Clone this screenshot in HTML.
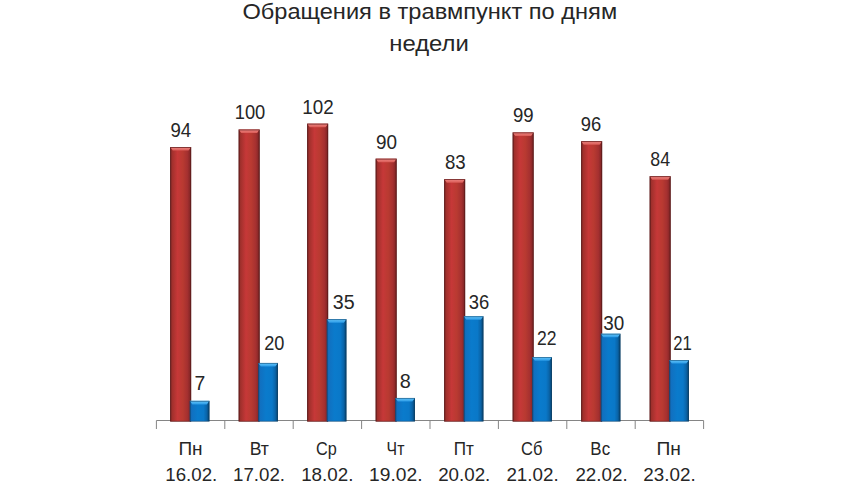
<!DOCTYPE html>
<html><head><meta charset="utf-8"><style>
html,body{margin:0;padding:0;background:#fff;width:860px;height:484px;overflow:hidden;position:relative}
svg text{font-family:"Liberation Sans",sans-serif}
</style></head><body>
<svg width="860" height="484" viewBox="0 0 860 484" style="position:absolute;left:0;top:0">
<defs>
<linearGradient id="rg" x1="0" y1="0" x2="1" y2="0">
<stop offset="0" stop-color="#6a2222"/><stop offset="0.09" stop-color="#a0302c"/><stop offset="0.35" stop-color="#c63838"/><stop offset="0.6" stop-color="#b93a31"/><stop offset="0.82" stop-color="#a53030"/><stop offset="0.93" stop-color="#8a2828"/><stop offset="1" stop-color="#5e1e1e"/>
</linearGradient>
<linearGradient id="bg" x1="0" y1="0" x2="1" y2="0">
<stop offset="0" stop-color="#1d5a96"/><stop offset="0.1" stop-color="#1170c0"/><stop offset="0.4" stop-color="#0a7bcc"/><stop offset="0.7" stop-color="#0a78c8"/><stop offset="0.86" stop-color="#0a64a8"/><stop offset="1" stop-color="#083e66"/>
</linearGradient>
<linearGradient id="rt" x1="0" y1="0" x2="0" y2="1">
<stop offset="0" stop-color="#f08a86"/><stop offset="1" stop-color="#d95a55"/>
</linearGradient>
<linearGradient id="bt" x1="0" y1="0" x2="0" y2="1">
<stop offset="0" stop-color="#66c6fa"/><stop offset="1" stop-color="#2a9ae6"/>
</linearGradient>
</defs>
<line x1="156.40" y1="420.5" x2="703.60" y2="420.5" stroke="#858585" stroke-width="1"/>
<line x1="156.40" y1="420.5" x2="156.40" y2="429.0" stroke="#858585" stroke-width="1"/>
<line x1="224.80" y1="420.5" x2="224.80" y2="429.0" stroke="#858585" stroke-width="1"/>
<line x1="293.20" y1="420.5" x2="293.20" y2="429.0" stroke="#858585" stroke-width="1"/>
<line x1="361.60" y1="420.5" x2="361.60" y2="429.0" stroke="#858585" stroke-width="1"/>
<line x1="430.00" y1="420.5" x2="430.00" y2="429.0" stroke="#858585" stroke-width="1"/>
<line x1="498.40" y1="420.5" x2="498.40" y2="429.0" stroke="#858585" stroke-width="1"/>
<line x1="566.80" y1="420.5" x2="566.80" y2="429.0" stroke="#858585" stroke-width="1"/>
<line x1="635.20" y1="420.5" x2="635.20" y2="429.0" stroke="#858585" stroke-width="1"/>
<line x1="703.60" y1="420.5" x2="703.60" y2="429.0" stroke="#858585" stroke-width="1"/>
<rect x="170.15" y="147.01" width="21.00" height="274.29" fill="url(#rg)"/>
<polygon points="170.15,147.01 191.15,147.01 188.55,150.61 172.75,150.61" fill="url(#rt)"/>
<rect x="170.60" y="147.46" width="20.10" height="273.84" fill="none" stroke="#5e1a1a" stroke-width="0.9" stroke-opacity="0.8"/>
<rect x="189.75" y="400.87" width="19.70" height="20.43" fill="url(#bg)"/>
<polygon points="189.75,400.87 209.45,400.87 206.85,404.47 192.35,404.47" fill="url(#bt)"/>
<rect x="190.20" y="401.32" width="18.80" height="19.98" fill="none" stroke="#08385f" stroke-width="0.9" stroke-opacity="0.55"/>
<rect x="238.65" y="129.50" width="21.00" height="291.80" fill="url(#rg)"/>
<polygon points="238.65,129.50 259.65,129.50 257.05,133.10 241.25,133.10" fill="url(#rt)"/>
<rect x="239.10" y="129.95" width="20.10" height="291.35" fill="none" stroke="#5e1a1a" stroke-width="0.9" stroke-opacity="0.8"/>
<rect x="258.25" y="362.94" width="19.70" height="58.36" fill="url(#bg)"/>
<polygon points="258.25,362.94 277.95,362.94 275.35,366.54 260.85,366.54" fill="url(#bt)"/>
<rect x="258.70" y="363.39" width="18.80" height="57.91" fill="none" stroke="#08385f" stroke-width="0.9" stroke-opacity="0.55"/>
<rect x="307.15" y="123.66" width="21.00" height="297.64" fill="url(#rg)"/>
<polygon points="307.15,123.66 328.15,123.66 325.55,127.26 309.75,127.26" fill="url(#rt)"/>
<rect x="307.60" y="124.11" width="20.10" height="297.19" fill="none" stroke="#5e1a1a" stroke-width="0.9" stroke-opacity="0.8"/>
<rect x="326.75" y="319.17" width="19.70" height="102.13" fill="url(#bg)"/>
<polygon points="326.75,319.17 346.45,319.17 343.85,322.77 329.35,322.77" fill="url(#bt)"/>
<rect x="327.20" y="319.62" width="18.80" height="101.68" fill="none" stroke="#08385f" stroke-width="0.9" stroke-opacity="0.55"/>
<rect x="375.65" y="158.68" width="21.00" height="262.62" fill="url(#rg)"/>
<polygon points="375.65,158.68 396.65,158.68 394.05,162.28 378.25,162.28" fill="url(#rt)"/>
<rect x="376.10" y="159.13" width="20.10" height="262.17" fill="none" stroke="#5e1a1a" stroke-width="0.9" stroke-opacity="0.8"/>
<rect x="395.25" y="397.96" width="19.70" height="23.34" fill="url(#bg)"/>
<polygon points="395.25,397.96 414.95,397.96 412.35,401.56 397.85,401.56" fill="url(#bt)"/>
<rect x="395.70" y="398.41" width="18.80" height="22.89" fill="none" stroke="#08385f" stroke-width="0.9" stroke-opacity="0.55"/>
<rect x="444.15" y="179.11" width="21.00" height="242.19" fill="url(#rg)"/>
<polygon points="444.15,179.11 465.15,179.11 462.55,182.71 446.75,182.71" fill="url(#rt)"/>
<rect x="444.60" y="179.56" width="20.10" height="241.74" fill="none" stroke="#5e1a1a" stroke-width="0.9" stroke-opacity="0.8"/>
<rect x="463.75" y="316.25" width="19.70" height="105.05" fill="url(#bg)"/>
<polygon points="463.75,316.25 483.45,316.25 480.85,319.85 466.35,319.85" fill="url(#bt)"/>
<rect x="464.20" y="316.70" width="18.80" height="104.60" fill="none" stroke="#08385f" stroke-width="0.9" stroke-opacity="0.55"/>
<rect x="512.65" y="132.42" width="21.00" height="288.88" fill="url(#rg)"/>
<polygon points="512.65,132.42 533.65,132.42 531.05,136.02 515.25,136.02" fill="url(#rt)"/>
<rect x="513.10" y="132.87" width="20.10" height="288.43" fill="none" stroke="#5e1a1a" stroke-width="0.9" stroke-opacity="0.8"/>
<rect x="532.25" y="357.10" width="19.70" height="64.20" fill="url(#bg)"/>
<polygon points="532.25,357.10 551.95,357.10 549.35,360.70 534.85,360.70" fill="url(#bt)"/>
<rect x="532.70" y="357.55" width="18.80" height="63.75" fill="none" stroke="#08385f" stroke-width="0.9" stroke-opacity="0.55"/>
<rect x="581.15" y="141.17" width="21.00" height="280.13" fill="url(#rg)"/>
<polygon points="581.15,141.17 602.15,141.17 599.55,144.77 583.75,144.77" fill="url(#rt)"/>
<rect x="581.60" y="141.62" width="20.10" height="279.68" fill="none" stroke="#5e1a1a" stroke-width="0.9" stroke-opacity="0.8"/>
<rect x="600.75" y="333.76" width="19.70" height="87.54" fill="url(#bg)"/>
<polygon points="600.75,333.76 620.45,333.76 617.85,337.36 603.35,337.36" fill="url(#bt)"/>
<rect x="601.20" y="334.21" width="18.80" height="87.09" fill="none" stroke="#08385f" stroke-width="0.9" stroke-opacity="0.55"/>
<rect x="649.65" y="176.19" width="21.00" height="245.11" fill="url(#rg)"/>
<polygon points="649.65,176.19 670.65,176.19 668.05,179.79 652.25,179.79" fill="url(#rt)"/>
<rect x="650.10" y="176.64" width="20.10" height="244.66" fill="none" stroke="#5e1a1a" stroke-width="0.9" stroke-opacity="0.8"/>
<rect x="669.25" y="360.02" width="19.70" height="61.28" fill="url(#bg)"/>
<polygon points="669.25,360.02 688.95,360.02 686.35,363.62 671.85,363.62" fill="url(#bt)"/>
<rect x="669.70" y="360.47" width="18.80" height="60.83" fill="none" stroke="#08385f" stroke-width="0.9" stroke-opacity="0.55"/>
<text transform="translate(180.75 137.20) scale(0.9327 1)" font-size="20" letter-spacing="0.000" text-anchor="middle" fill="#262626">94</text>
<text transform="translate(199.75 389.70) scale(0.9660 1)" font-size="20" letter-spacing="0.000" text-anchor="middle" fill="#262626">7</text>
<text transform="translate(250.00 119.20) scale(0.9165 1)" font-size="20" letter-spacing="0.000" text-anchor="middle" fill="#262626">100</text>
<text transform="translate(274.25 350.20) scale(0.9089 1)" font-size="20" letter-spacing="0.000" text-anchor="middle" fill="#262626">20</text>
<text transform="translate(318.00 113.70) scale(0.9424 1)" font-size="20" letter-spacing="0.000" text-anchor="middle" fill="#262626">102</text>
<text transform="translate(343.75 308.70) scale(0.9818 1)" font-size="20" letter-spacing="0.000" text-anchor="middle" fill="#262626">35</text>
<text transform="translate(386.50 148.70) scale(0.9461 1)" font-size="20" letter-spacing="0.000" text-anchor="middle" fill="#262626">90</text>
<text transform="translate(405.25 387.70) scale(0.9946 1)" font-size="20" letter-spacing="0.000" text-anchor="middle" fill="#262626">8</text>
<text transform="translate(455.25 168.70) scale(0.9327 1)" font-size="20" letter-spacing="0.000" text-anchor="middle" fill="#262626">83</text>
<text transform="translate(479.00 309.20) scale(0.9210 1)" font-size="20" letter-spacing="0.000" text-anchor="middle" fill="#262626">36</text>
<text transform="translate(523.25 122.20) scale(0.9302 1)" font-size="20" letter-spacing="0.000" text-anchor="middle" fill="#262626">99</text>
<text transform="translate(546.75 344.70) scale(0.8791 1)" font-size="20" letter-spacing="0.000" text-anchor="middle" fill="#262626">22</text>
<text transform="translate(591.00 130.70) scale(0.9210 1)" font-size="20" letter-spacing="0.000" text-anchor="middle" fill="#262626">96</text>
<text transform="translate(613.75 329.70) scale(0.9437 1)" font-size="20" letter-spacing="0.000" text-anchor="middle" fill="#262626">30</text>
<text transform="translate(660.25 165.70) scale(0.8883 1)" font-size="20" letter-spacing="0.000" text-anchor="middle" fill="#262626">84</text>
<text transform="translate(682.50 350.20) scale(0.8321 1)" font-size="20" letter-spacing="0.000" text-anchor="middle" fill="#262626">21</text>
<text transform="translate(190.50 455.10) scale(1.0023 1)" font-size="19" letter-spacing="0.000" text-anchor="middle" fill="#262626">Пн</text>
<text transform="translate(191.25 480.80) scale(0.9841 1)" font-size="19" letter-spacing="0.000" text-anchor="middle" fill="#262626">16.02.</text>
<text transform="translate(259.25 455.10) scale(0.9285 1)" font-size="19" letter-spacing="0.000" text-anchor="middle" fill="#262626">Вт</text>
<text transform="translate(259.00 480.80) scale(0.9842 1)" font-size="19" letter-spacing="0.000" text-anchor="middle" fill="#262626">17.02.</text>
<text transform="translate(326.50 455.30) scale(0.8555 1)" font-size="19" letter-spacing="0.000" text-anchor="middle" fill="#262626">Ср</text>
<text transform="translate(327.25 480.80) scale(0.9884 1)" font-size="19" letter-spacing="0.000" text-anchor="middle" fill="#262626">18.02.</text>
<text transform="translate(395.50 455.10) scale(0.8329 1)" font-size="19" letter-spacing="0.000" text-anchor="middle" fill="#262626">Чт</text>
<text transform="translate(395.75 480.80) scale(1.0123 1)" font-size="19" letter-spacing="0.000" text-anchor="middle" fill="#262626">19.02.</text>
<text transform="translate(463.75 455.10) scale(0.9013 1)" font-size="19" letter-spacing="0.000" text-anchor="middle" fill="#262626">Пт</text>
<text transform="translate(464.25 480.80) scale(0.9880 1)" font-size="19" letter-spacing="0.000" text-anchor="middle" fill="#262626">20.02.</text>
<text transform="translate(531.75 455.10) scale(0.8707 1)" font-size="19" letter-spacing="0.000" text-anchor="middle" fill="#262626">Сб</text>
<text transform="translate(532.50 480.80) scale(0.9885 1)" font-size="19" letter-spacing="0.000" text-anchor="middle" fill="#262626">21.02.</text>
<text transform="translate(600.25 455.10) scale(0.8910 1)" font-size="19" letter-spacing="0.000" text-anchor="middle" fill="#262626">Вс</text>
<text transform="translate(601.50 480.80) scale(0.9885 1)" font-size="19" letter-spacing="0.000" text-anchor="middle" fill="#262626">22.02.</text>
<text transform="translate(668.75 455.10) scale(1.0126 1)" font-size="19" letter-spacing="0.000" text-anchor="middle" fill="#262626">Пн</text>
<text transform="translate(669.50 480.80) scale(0.9921 1)" font-size="19" letter-spacing="0.000" text-anchor="middle" fill="#262626">23.02.</text>
<text transform="translate(429.75 19.20) scale(1.0991 1)" font-size="21.5" letter-spacing="0.000" text-anchor="middle" fill="#262626">Обращения в травмпункт по дням</text>
<text transform="translate(429.00 50.70) scale(1.1102 1)" font-size="21.5" letter-spacing="0.000" text-anchor="middle" fill="#262626">недели</text>
</svg>
</body></html>
